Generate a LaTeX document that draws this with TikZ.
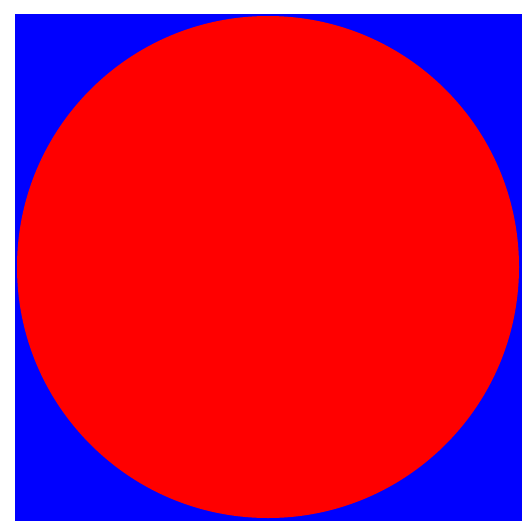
\documentclass[tikz,border=0pt]{standalone}
\begin{document}
\begin{tikzpicture}[x=1pt,y=-1pt]
\useasboundingbox (0,0) rectangle (522,525);
\fill[white] (0,0) rectangle (522,525);
\fill[blue] (15,14) rectangle (522,521);
\fill[red] (268,267) circle[radius=251];
\end{tikzpicture}
\end{document}
